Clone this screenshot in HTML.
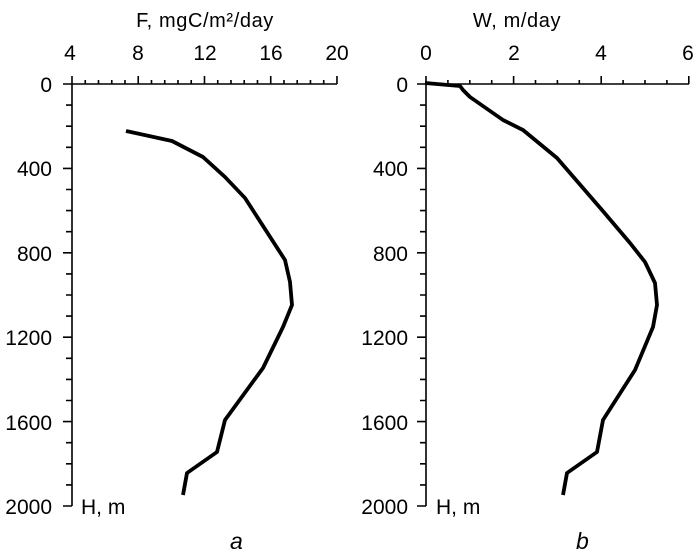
<!DOCTYPE html><html><head><style>body{margin:0;background:#fff}svg{display:block}text{font-family:"Liberation Sans",Arial,sans-serif;fill:#000;font-size:21px}.it{font-style:italic;font-size:23px}.t{font-size:20px;letter-spacing:0.6px}</style></head><body>
<svg width="696" height="555" viewBox="0 0 696 555">
<text x="205" y="27" text-anchor="middle" class="t">F, mgC/m²/day</text>
<text x="517" y="27" text-anchor="middle" class="t">W, m/day</text>
<text x="70" y="60" text-anchor="middle">4</text><text x="138" y="60" text-anchor="middle">8</text><text x="205" y="60" text-anchor="middle">12</text><text x="271" y="60" text-anchor="middle">16</text><text x="337" y="60" text-anchor="middle">20</text>
<text x="426" y="60" text-anchor="middle">0</text><text x="514" y="60" text-anchor="middle">2</text><text x="601" y="60" text-anchor="middle">4</text><text x="688" y="60" text-anchor="middle">6</text>
<g text-anchor="end">
<text x="52" y="92">0</text><text x="52" y="176">400</text><text x="52" y="261">800</text><text x="52" y="345">1200</text><text x="52" y="430">1600</text><text x="52" y="514">2000</text>
<text x="408" y="92">0</text><text x="408" y="176">400</text><text x="408" y="261">800</text><text x="408" y="345">1200</text><text x="408" y="430">1600</text><text x="408" y="514">2000</text>
</g>
<text x="81" y="514">H, m</text><text x="436" y="514">H, m</text>
<text x="230" y="549" class="it">a</text><text x="576" y="549" class="it">b</text>
<g id="ax" stroke="#000" stroke-width="1.6" fill="none"></g>
<polyline fill="none" stroke="#000" stroke-width="3.8" stroke-linejoin="round" points="126,131 172,141 203,157 225,177 245,198 285,260 290,282 292,305 283,327 263,368 225,420 217,452 187,473 183,495"/>
<polyline fill="none" stroke="#000" stroke-width="3.8" stroke-linejoin="round" points="425,83 460,86 463,90 470,97 503,120 523,130 557,158 602,210 630,243 645,262 655,283 657,305 653,327 635,370 603,420 597,452 567,473 563,495"/>
</svg>
<script>
var g=document.getElementById('ax'),p='';
function L(a,b,c,d){p+='M'+a+' '+b+'L'+c+' '+d;}
L(72,84,72,506);L(72,84,337,84);
for(var i=0;i<=20;i++){var x=72+i*0.8*16.56;L(x,84,x,i%5?80:76);}
for(var i=0;i<=20;i++){var y=84+i*21.1;L(72,y,i%4?66:63,y);}
L(426,84,426,506);L(426,84,689,84);
for(var i=0;i<=12;i++){var x=426+i*0.5*43.8;L(x,84,x,i%4?80:76);}
for(var i=0;i<=20;i++){var y=84+i*21.1;L(426,y,i%4?420:417,y);}
g.innerHTML='<path d="'+p+'"/>';
</script>
</body></html>
